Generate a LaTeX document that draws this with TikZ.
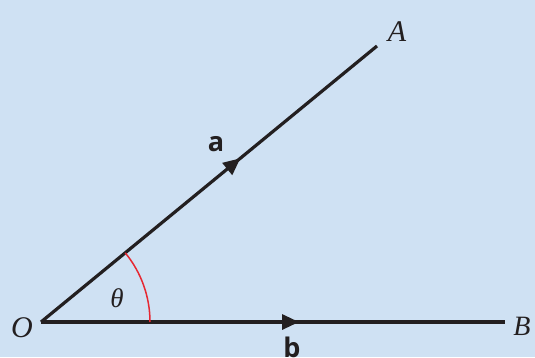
\documentclass[tikz,border=0pt]{standalone}
\usepackage{fontspec}
\newfontfamily\labfont{Open Sans}[BoldFont={Open Sans Bold}]
\newfontfamily\ptfont{Liberation Serif}
\usetikzlibrary{arrows.meta,decorations.markings}
\definecolor{bgblue}{RGB}{207,225,243}
\definecolor{ink}{RGB}{35,31,32}
\definecolor{arcred}{RGB}{230,40,50}
\tikzset{
  vec/.style={draw=ink, line width=3.2pt, line cap=butt,
    postaction={decorate},
    decoration={markings, mark=at position 258pt with {\arrow{Triangle[length=17pt,width=15pt]}}}},
  ptlabel/.style={text=ink, inner sep=0pt, font=\fontsize{30}{30}\selectfont\ptfont\itshape},
  veclabel/.style={text=ink, inner sep=0pt, font=\fontsize{27}{27}\selectfont\labfont\bfseries},
}
\begin{document}
\begin{tikzpicture}[x=1pt,y=-1pt]
  \fill[bgblue] (0,0) rectangle (535,357);
  \useasboundingbox (0,0) rectangle (535,357);
  \coordinate (O) at (41,322);
  \coordinate (A) at (377,46);
  \coordinate (B) at (505,322);
  \draw[vec] (O) -- (A);
  \draw[vec] (O) -- (B);
  \draw[arcred, line width=1.5pt] (150,322) arc[start angle=0, end angle=-39.4, radius=109];
  \node[ptlabel] (lO) at (22,328) {O};
  \node[ptlabel] (lA) at (397,32) {A};
  \node[ptlabel, font=\fontsize{28}{28}\selectfont\ptfont\itshape] (lB) at (522,326) {B};
  \node[ptlabel, font=\fontsize{27}{27}\selectfont\ptfont\itshape] (lth) at (117,298) {θ};
  \node[veclabel] (la) at (216,144) {a};
  \node[veclabel, anchor=north] (lb) at (292,337) {b};
\end{tikzpicture}
\end{document}
